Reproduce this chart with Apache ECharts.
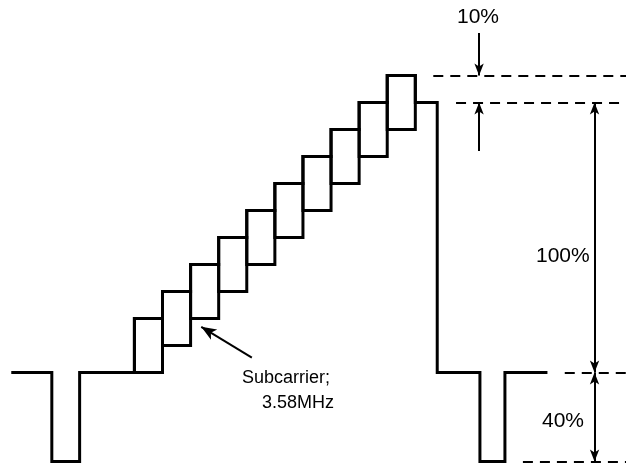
<!DOCTYPE html>
<html>
<head>
<meta charset="utf-8">
<script src="https://cdn.jsdelivr.net/npm/echarts@6/dist/echarts.min.js"></script>
<style>
  html, body { margin: 0; padding: 0; background: #fff; }
  #chart-container { width: 626px; height: 467px; }
</style>
</head>
<body>
<div id="chart-container"></div>
<script>
// staircase levels (IRE) of the ten luminance steps, subcarrier rides +/- on them
var stepLevels = [10, 20, 30, 40, 50, 60, 70, 80, 90, 100];
var subcarrierAmp = 10;
var blankLevel = 0;
var syncLevel = -33;   // drawn depth of sync tip (labelled 40%)
var whiteLevel = 100;
var peakLevel = 110;

// time positions, in step widths from start of the staircase
var leadIn = [-4.33, -2.94, -1.95];     // line start, sync start, sync end
var tailOut = [10.78, 12.30, 13.19, 14.65]; // white end, sync start, sync end, line end

var chartDom = document.getElementById('chart-container');
var myChart = echarts.init(chartDom);
var option;

// outer waveform: blanking, sync, upper envelope of staircase, white, blanking, sync
var outline = [
  [leadIn[0], blankLevel], [leadIn[1], blankLevel], [leadIn[1], syncLevel],
  [leadIn[2], syncLevel], [leadIn[2], blankLevel], [0, blankLevel]
];
stepLevels.forEach(function (lvl, k) {
  outline.push([k, lvl + subcarrierAmp]);
  outline.push([k + 1, lvl + subcarrierAmp]);
});
outline.push([stepLevels.length, whiteLevel]);
outline.push([tailOut[0], whiteLevel], [tailOut[0], blankLevel],
  [tailOut[1], blankLevel], [tailOut[1], syncLevel],
  [tailOut[2], syncLevel], [tailOut[2], blankLevel], [tailOut[3], blankLevel]);

var boxes = stepLevels.map(function (lvl, k) { return [k, lvl]; });

var xRight = 17.5;
var dashStyle = { type: [10, 7], width: 2, color: '#000' };
var dimStyle = { type: 'solid', width: 2, color: '#000' };

function dashed(x0, y) {
  return [{ coord: [x0, y], lineStyle: dashStyle, symbol: 'none' },
          { coord: [xRight, y], symbol: 'none' }];
}
function arrow(from, to, startHead, size) {
  return [{ coord: from, lineStyle: dimStyle, symbol: startHead ? 'arrow' : 'none', symbolSize: size },
          { coord: to, symbol: 'arrow', symbolSize: size }];
}

option = {
  backgroundColor: '#fff',
  animation: false,
  grid: { left: 8, top: 8, width: 620, height: 462 },
  xAxis: { type: 'value', min: -4.5, max: xRight, show: false },
  yAxis: { type: 'value', min: -35, max: 135, show: false },
  series: [
    {
      type: 'line',
      data: outline,
      symbol: 'none',
      lineStyle: { color: '#000', width: 3, join: 'miter', cap: 'square' },
      z: 3,
      markLine: {
        silent: true,
        label: { show: false },
        data: [
          dashed(10.64, peakLevel),
          dashed(11.45, whiteLevel),
          dashed(15.32, blankLevel),
          dashed(13.83, syncLevel),
          // 10% pointers
          arrow([12.27, 125.7], [12.27, peakLevel], false, [7, 12]),
          arrow([12.27, 82], [12.27, whiteLevel], false, [7, 12]),
          // 100% and 40% spans
          arrow([16.38, whiteLevel], [16.38, blankLevel], true, [7, 12]),
          arrow([16.38, blankLevel], [16.38, syncLevel], true, [7, 12]),
          // subcarrier pointer
          arrow([4.18, 5.5], [2.38, 16.9], false, [9, 15])
        ]
      }
    },
    {
      type: 'custom',
      data: boxes,
      z: 2,
      renderItem: function (params, api) {
        var k = api.value(0);
        var lvl = api.value(1);
        var p1 = api.coord([k, lvl + subcarrierAmp]);
        var p2 = api.coord([k + 1, lvl - subcarrierAmp]);
        return {
          type: 'rect',
          shape: { x: p1[0], y: p1[1], width: p2[0] - p1[0], height: p2[1] - p1[1] },
          style: { fill: 'none', stroke: '#000', lineWidth: 3 }
        };
      }
    }
  ],
  graphic: [
    { type: 'text', left: 457, top: 7, style: { text: '10%', font: '21px "Liberation Sans"', fill: '#000' } },
    { type: 'text', left: 536, top: 246, style: { text: '100%', font: '21px "Liberation Sans"', fill: '#000' } },
    { type: 'text', left: 542, top: 411, style: { text: '40%', font: '21px "Liberation Sans"', fill: '#000' } },
    { type: 'text', left: 242, top: 369, style: { text: 'Subcarrier;', font: '18px "Liberation Sans"', fill: '#000' } },
    { type: 'text', left: 262, top: 394, style: { text: '3.58MHz', font: '18px "Liberation Sans"', fill: '#000' } }
  ]
};

option && myChart.setOption(option);
</script>
</body>
</html>
